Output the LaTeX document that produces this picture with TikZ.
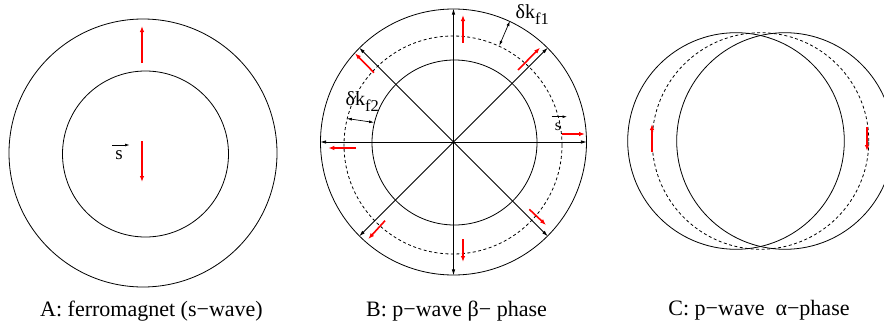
\documentclass[tikz,border=0pt]{standalone}
\usepackage{fontspec}
\setmainfont{Liberation Serif}
\usetikzlibrary{arrows.meta}
\begin{document}
\begin{tikzpicture}[x=1pt,y=-1pt,
  ring/.style={circle,draw,inner sep=0pt,line width=0.8pt},
  dring/.style={ring,dash pattern=on 3pt off 2.5pt},
  spin/.style={red,line width=1.6pt,-{Latex[length=6pt,width=4.5pt]}},
  ax/.style={line width=0.8pt,-{Latex[length=6pt,width=3.5pt]}},
  svec/.style={line width=0.7pt,-{Latex[length=4.5pt,width=3pt]}},
  dk/.style={line width=0.7pt,{Latex[length=5pt,width=3pt]}-{Latex[length=5pt,width=3pt]}},
  lbl/.style={font=\fontsize{22}{24}\selectfont,anchor=base,inner sep=0pt},
  sym/.style={anchor=base,inner sep=0pt}]
\useasboundingbox (0,0) rectangle (884,324);
\clip (0,0) rectangle (884,324);
% ---------- Panel A
\node[ring,minimum size=268pt] (Aout) at (143,153) {};
\node[ring,minimum size=166pt] (Ain) at (145.5,154) {};
\coordinate (Au1) at (142,63); \coordinate (Au2) at (142,26);
\draw[spin] (Au1) -- (Au2);
\coordinate (Ad1) at (142,141); \coordinate (Ad2) at (142,182);
\draw[spin] (Ad1) -- (Ad2);
\node[sym,font=\fontsize{19}{21}\selectfont] (As) at (119,159) {s};
\coordinate (As1) at (112,145); \coordinate (As2) at (129.5,145);
\draw[svec] (As1) -- (As2);
% ---------- Panel B
\coordinate (Bc) at (453.5,142);
\node[ring,minimum size=266pt] (Bout) at (Bc) {};
\node[ring,minimum size=165pt] (Bin) at (454.5,142.5) {};
\node[dring,minimum size=218pt] (Bdash) at (453,145) {};
\foreach \a in {0,45,...,315} \draw[ax] (Bc) -- (Bout.\a);
\coordinate (Bt1) at (463,42.7); \coordinate (Bt2) at (463,15);
\coordinate (Bne1) at (518,70); \coordinate (Bne2) at (540,47.7);
\coordinate (Bnw1) at (374,72.7); \coordinate (Bnw2) at (355,53.3);
\coordinate (Bl1) at (356,148); \coordinate (Bl2) at (328.3,148);
\coordinate (Br1) at (561.7,134); \coordinate (Br2) at (585,134);
\coordinate (Bsw1) at (385,220.7); \coordinate (Bsw2) at (368.3,239);
\coordinate (Bse1) at (529.3,209.3); \coordinate (Bse2) at (546,225);
\coordinate (Bb1) at (463,239.3); \coordinate (Bb2) at (463,262);
\foreach \p in {Bt,Bne,Bnw,Bl,Br,Bsw,Bse,Bb} \draw[spin] (\p1) -- (\p2);
\draw[dk] (Bout.65) -- (Bdash.65);
\draw[dk] (Bdash.166) -- (Bin.166);
\node[anchor=base west,inner sep=0pt,font=\fontsize{20}{22}\selectfont] (dk1) at (515.5,18.3) {δk\raisebox{-6.5pt}{\fontsize{16.5}{18}\selectfont f1}};
\node[anchor=base west,inner sep=0pt,font=\fontsize{20}{22}\selectfont] (dk2) at (345.5,105) {δk\raisebox{-6.5pt}{\fontsize{16.5}{18}\selectfont f2}};
\node[sym,font=\fontsize{16}{18}\selectfont] (Bs) at (558,130) {s};
\coordinate (Bs1) at (551.7,116.7); \coordinate (Bs2) at (567,116.7);
\draw[svec] (Bs1) -- (Bs2);
% ---------- Panel C
\node[ring,minimum size=216.6pt] (Cl) at (736,141) {};
\node[ring,minimum size=216.6pt] (Cr) at (785,141) {};
\node[dring,minimum size=216.6pt] (Cd) at (760.5,141) {};
\coordinate (Cl1) at (652,152); \coordinate (Cl2) at (652,124);
\coordinate (Cr1) at (867,126.5); \coordinate (Cr2) at (867,151);
\draw[spin] (Cl1) -- (Cl2);
\draw[spin] (Cr1) -- (Cr2);
% ---------- Labels
\node[lbl] (LA) at (151.5,316) {A: ferromagnet (s−wave)};
\node[lbl] (LB) at (456.5,316) {B: p−wave β− phase};
\node[lbl] (LC) at (759,315) {C: p−wave\ \ α−phase};
\end{tikzpicture}
\end{document}
